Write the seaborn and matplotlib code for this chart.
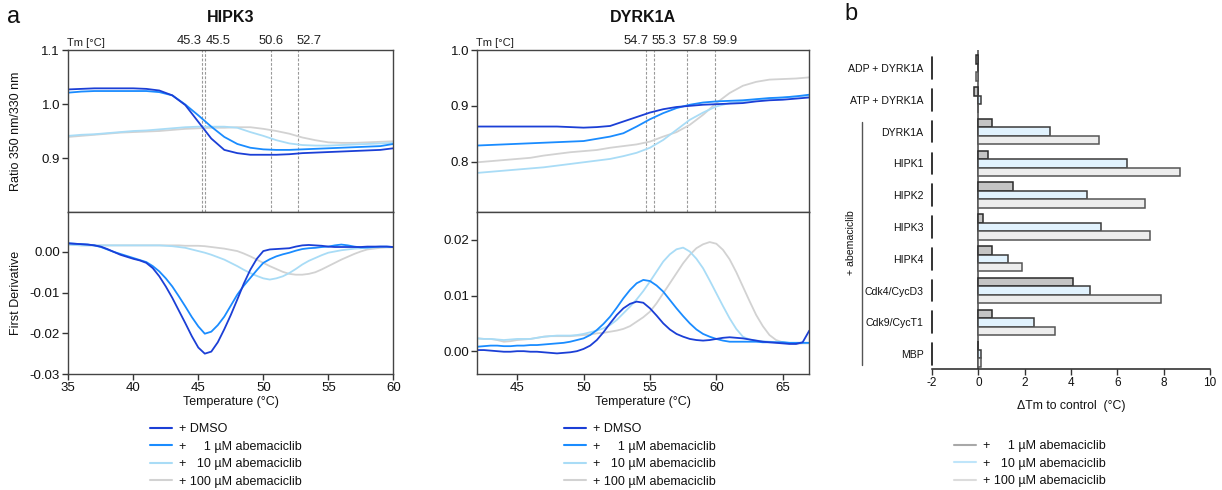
import numpy as np
import pandas as pd
import matplotlib
matplotlib.use("Agg")
import matplotlib.pyplot as plt
import matplotlib.transforms as mtransforms
from matplotlib.lines import Line2D
import seaborn as sns

# ---------------- data ----------------
conditions = ["+ DMSO", "+     1 µM abemaciclib", "+   10 µM abemaciclib", "+ 100 µM abemaciclib"]

hipk3_temp_ratio = list(range(35, 61))
hipk3_ratio_dmso = [1.027, 1.028, 1.029, 1.029, 1.029, 1.029, 1.028, 1.025, 1.016, 0.998, 0.967, 0.936, 0.915,
                    0.909, 0.906, 0.906, 0.906, 0.907, 0.909, 0.910, 0.911, 0.912, 0.913, 0.914, 0.915, 0.918]
hipk3_ratio_1 = [1.021, 1.023, 1.024, 1.024, 1.024, 1.024, 1.024, 1.022, 1.016, 0.999, 0.979, 0.958, 0.939,
                 0.926, 0.919, 0.916, 0.915, 0.915, 0.916, 0.917, 0.918, 0.919, 0.920, 0.921, 0.922, 0.926]
hipk3_ratio_10 = [0.941, 0.943, 0.944, 0.946, 0.948, 0.950, 0.951, 0.953, 0.955, 0.957, 0.958, 0.958, 0.958,
                  0.956, 0.948, 0.941, 0.933, 0.927, 0.924, 0.923, 0.923, 0.924, 0.925, 0.926, 0.927, 0.928]
hipk3_ratio_100 = [0.939, 0.941, 0.943, 0.945, 0.947, 0.948, 0.949, 0.950, 0.952, 0.954, 0.955, 0.956, 0.956,
                   0.957, 0.957, 0.954, 0.950, 0.945, 0.938, 0.933, 0.929, 0.928, 0.928, 0.929, 0.930, 0.931]

hipk3_temp_deriv = [35 + 0.5 * i for i in range(51)]
hipk3_deriv_dmso = [0.0021, 0.0020, 0.0019, 0.0018, 0.0016, 0.0013, 0.0007, 0.0000, -0.0007, -0.0012,
                    -0.0017, -0.0021, -0.0027, -0.0040, -0.0060, -0.0085, -0.0113, -0.0144, -0.0175, -0.0207,
                    -0.0235, -0.0250, -0.0245, -0.0222, -0.0190, -0.0155, -0.0117, -0.0078, -0.0044, -0.0017,
                    0.0002, 0.0006, 0.0007, 0.0008, 0.0009, 0.0013, 0.0016, 0.0017, 0.0016, 0.0015,
                    0.0013, 0.0012, 0.0012, 0.0012, 0.0012, 0.0012, 0.0013, 0.0013, 0.0013, 0.0013, 0.0012]
hipk3_deriv_1 = [0.0021, 0.0020, 0.0019, 0.0018, 0.0016, 0.0012, 0.0006, 0.0000, -0.0005, -0.0010,
                 -0.0015, -0.0020, -0.0025, -0.0035, -0.0048, -0.0065, -0.0085, -0.0109, -0.0134, -0.0160,
                 -0.0183, -0.0201, -0.0196, -0.0180, -0.0159, -0.0132, -0.0105, -0.0083, -0.0064, -0.0045,
                 -0.0027, -0.0018, -0.0011, -0.0006, -0.0002, 0.0003, 0.0007, 0.0009, 0.0010, 0.0012,
                 0.0013, 0.0016, 0.0018, 0.0016, 0.0013, 0.0011, 0.0011, 0.0012, 0.0013, 0.0013, 0.0012]
hipk3_deriv_10 = [0.0018, 0.0017, 0.0016, 0.0016, 0.0016, 0.0016, 0.0016, 0.0016, 0.0016, 0.0016,
                  0.0016, 0.0016, 0.0016, 0.0016, 0.0016, 0.0015, 0.0014, 0.0012, 0.0010, 0.0006,
                  0.0002, -0.0002, -0.0007, -0.0013, -0.0019, -0.0027, -0.0035, -0.0044, -0.0052, -0.0059,
                  -0.0065, -0.0068, -0.0065, -0.0060, -0.0052, -0.0042, -0.0031, -0.0022, -0.0015, -0.0008,
                  -0.0002, 0.0001, 0.0004, 0.0006, 0.0008, 0.0009, 0.0010, 0.0011, 0.0012, 0.0012, 0.0012]
hipk3_deriv_100 = [0.0018, 0.0017, 0.0016, 0.0016, 0.0016, 0.0016, 0.0016, 0.0016, 0.0016, 0.0016,
                   0.0016, 0.0016, 0.0016, 0.0016, 0.0016, 0.0016, 0.0016, 0.0016, 0.0015, 0.0015,
                   0.0015, 0.0014, 0.0012, 0.0010, 0.0008, 0.0005, 0.0002, -0.0004, -0.0011, -0.0019,
                   -0.0027, -0.0035, -0.0042, -0.0049, -0.0054, -0.0056, -0.0056, -0.0054, -0.0050, -0.0043,
                   -0.0035, -0.0027, -0.0019, -0.0012, -0.0005, 0.0001, 0.0006, 0.0008, 0.0010, 0.0011, 0.0011]

dyrk_temp_ratio = list(range(42, 68))
dyrk_ratio_dmso = [0.863, 0.863, 0.863, 0.863, 0.863, 0.863, 0.863, 0.862, 0.861, 0.862, 0.864, 0.872, 0.880,
                   0.888, 0.894, 0.898, 0.900, 0.902, 0.903, 0.904, 0.905, 0.908, 0.910, 0.911, 0.913, 0.915]
dyrk_ratio_1 = [0.829, 0.830, 0.831, 0.832, 0.833, 0.834, 0.835, 0.836, 0.837, 0.841, 0.845, 0.851, 0.863,
                0.876, 0.887, 0.896, 0.902, 0.906, 0.908, 0.909, 0.910, 0.912, 0.914, 0.915, 0.917, 0.920]
dyrk_ratio_10 = [0.780, 0.782, 0.784, 0.786, 0.788, 0.790, 0.793, 0.796, 0.799, 0.802, 0.805, 0.810, 0.816,
                 0.825, 0.839, 0.857, 0.875, 0.888, 0.899, 0.905, 0.908, 0.911, 0.913, 0.915, 0.917, 0.918]
dyrk_ratio_100 = [0.799, 0.801, 0.803, 0.805, 0.807, 0.811, 0.814, 0.817, 0.819, 0.821, 0.825, 0.828, 0.831,
                  0.836, 0.845, 0.853, 0.866, 0.884, 0.905, 0.923, 0.936, 0.943, 0.947, 0.948, 0.949, 0.951]

dyrk_temp_deriv = [42 + 0.5 * i for i in range(51)]
dyrk_deriv_dmso = [0.0002, 0.0002, 0.0001, 0.0000, -0.0001, -0.0001, 0.0000, 0.0000, -0.0001, -0.0001,
                   -0.0002, -0.0003, -0.0004, -0.0003, -0.0002, 0.0000, 0.0004, 0.0010, 0.0020, 0.0034,
                   0.0050, 0.0065, 0.0077, 0.0085, 0.0089, 0.0087, 0.0077, 0.0064, 0.0050, 0.0039,
                   0.0031, 0.0026, 0.0022, 0.0020, 0.0019, 0.0020, 0.0022, 0.0024, 0.0025, 0.0024,
                   0.0023, 0.0021, 0.0019, 0.0017, 0.0016, 0.0015, 0.0014, 0.0013, 0.0013, 0.0016, 0.0037]
dyrk_deriv_1 = [0.0008, 0.0009, 0.0010, 0.0010, 0.0009, 0.0009, 0.0010, 0.0010, 0.0011, 0.0011,
                0.0012, 0.0013, 0.0014, 0.0015, 0.0017, 0.0020, 0.0023, 0.0029, 0.0038, 0.0049,
                0.0062, 0.0078, 0.0095, 0.0110, 0.0122, 0.0128, 0.0126, 0.0118, 0.0107, 0.0092,
                0.0077, 0.0063, 0.0050, 0.0039, 0.0031, 0.0026, 0.0022, 0.0019, 0.0017, 0.0017,
                0.0017, 0.0017, 0.0017, 0.0016, 0.0016, 0.0016, 0.0016, 0.0015, 0.0015, 0.0015, 0.0015]
dyrk_deriv_10 = [0.0023, 0.0022, 0.0022, 0.0021, 0.0020, 0.0021, 0.0022, 0.0022, 0.0022, 0.0024,
                 0.0026, 0.0027, 0.0028, 0.0028, 0.0028, 0.0029, 0.0031, 0.0034, 0.0037, 0.0041,
                 0.0047, 0.0056, 0.0068, 0.0080, 0.0093, 0.0108, 0.0125, 0.0143, 0.0161, 0.0174,
                 0.0183, 0.0186, 0.0179, 0.0166, 0.0149, 0.0127, 0.0104, 0.0081, 0.0059, 0.0040,
                 0.0026, 0.0021, 0.0019, 0.0018, 0.0017, 0.0016, 0.0016, 0.0015, 0.0015, 0.0015, 0.0015]
dyrk_deriv_100 = [0.0023, 0.0022, 0.0022, 0.0020, 0.0017, 0.0018, 0.0020, 0.0021, 0.0022, 0.0024,
                  0.0026, 0.0027, 0.0027, 0.0027, 0.0027, 0.0028, 0.0029, 0.0030, 0.0032, 0.0033,
                  0.0035, 0.0037, 0.0040, 0.0045, 0.0053, 0.0061, 0.0071, 0.0086, 0.0104, 0.0122,
                  0.0140, 0.0158, 0.0173, 0.0185, 0.0192, 0.0196, 0.0193, 0.0182, 0.0165, 0.0142,
                  0.0116, 0.0090, 0.0065, 0.0045, 0.0029, 0.0020, 0.0016, 0.0014, 0.0013, 0.0014, 0.0014]

hipk3_tm = [45.3, 45.5, 50.6, 52.7]
dyrk_tm = [54.7, 55.3, 57.8, 59.9]

bar_categories = ["ADP + DYRK1A", "ATP + DYRK1A", "DYRK1A", "HIPK1", "HIPK2", "HIPK3", "HIPK4",
                  "Cdk4/CycD3", "Cdk9/CycT1", "MBP"]
bar_conditions = ["+     1 µM abemaciclib", "+   10 µM abemaciclib", "+ 100 µM abemaciclib"]
dtm_1uM = [-0.08, -0.2, 0.6, 0.4, 1.5, 0.2, 0.6, 4.1, 0.6, 0.0]
dtm_10uM = [0.0, 0.12, 3.1, 6.4, 4.7, 5.3, 1.3, 4.8, 2.4, 0.12]
dtm_100uM = [-0.08, 0.0, 5.2, 8.7, 7.2, 7.4, 1.9, 7.9, 3.3, 0.12]

# ---------------- style ----------------
sns.set_style("ticks")
plt.rcParams["font.family"] = ["Liberation Sans", "DejaVu Sans"]
plt.rcParams["axes.unicode_minus"] = False
plt.rcParams["axes.edgecolor"] = "#333333"
plt.rcParams["xtick.color"] = "#333333"
plt.rcParams["ytick.color"] = "#333333"
plt.rcParams["xtick.labelcolor"] = "#111111"
plt.rcParams["ytick.labelcolor"] = "#111111"
plt.rcParams["text.color"] = "#111111"
plt.rcParams["axes.labelcolor"] = "#111111"

line_colors = ["#1b3fd6", "#1a8cff", "#a9dcf6", "#d2d2d2"]
bar_faces = ["#c4c4c4", "#e1f2fd", "#ededed"]
bar_edges = ["#2a2a2a", "#3a3a3a", "#555555"]
legend_b_colors = ["#a8a8a8", "#bfe5fa", "#dcdcdc"]

W, H = 1222, 490
fig = plt.figure(figsize=(W / 100, H / 100), dpi=100)


def fx(px):
    return px / W


def fy(py):
    return 1 - py / H


ax_h_top = fig.add_axes([fx(68.3), fy(212), fx(325), (212 - 50) / H])
ax_h_bot = fig.add_axes([fx(68.3), fy(374), fx(325), (374 - 212) / H])
ax_d_top = fig.add_axes([fx(477.3), fy(212), fx(332), (212 - 50) / H])
ax_d_bot = fig.add_axes([fx(477.3), fy(374), fx(332), (374 - 212) / H])
ax_b = fig.add_axes([fx(932), fy(369), fx(278), (369 - 50) / H])

tick_fs = 9.5
label_fs = 9


def plot_set(ax, x, series):
    # lightest first so that the dark blue lies on top
    for ys, c in list(zip(series, line_colors))[::-1]:
        sns.lineplot(x=x, y=ys, ax=ax, color=c, lw=1.3, legend=False)


plot_set(ax_h_top, hipk3_temp_ratio, [hipk3_ratio_dmso, hipk3_ratio_1, hipk3_ratio_10, hipk3_ratio_100])
plot_set(ax_h_bot, hipk3_temp_deriv, [hipk3_deriv_dmso, hipk3_deriv_1, hipk3_deriv_10, hipk3_deriv_100])
plot_set(ax_d_top, dyrk_temp_ratio, [dyrk_ratio_dmso, dyrk_ratio_1, dyrk_ratio_10, dyrk_ratio_100])
plot_set(ax_d_bot, dyrk_temp_deriv, [dyrk_deriv_dmso, dyrk_deriv_1, dyrk_deriv_10, dyrk_deriv_100])

for ax in (ax_h_top, ax_h_bot):
    ax.set_xlim(35, 60)
for ax in (ax_d_top, ax_d_bot):
    ax.set_xlim(42, 67)
ax_h_top.set_ylim(0.80, 1.10)
ax_h_top.set_yticks([0.9, 1.0, 1.1])
ax_h_bot.set_ylim(-0.03, 0.0098)
ax_h_bot.set_yticks([-0.03, -0.02, -0.01, 0.0])
ax_h_bot.set_yticklabels(["-0.03", "-0.02", "-0.01", "0.00"])
ax_h_bot.set_xticks([35, 40, 45, 50, 55, 60])
ax_d_top.set_ylim(0.71, 1.0)
ax_d_top.set_yticks([0.8, 0.9, 1.0])
ax_d_bot.set_ylim(-0.0041, 0.0250)
ax_d_bot.set_yticks([0.0, 0.01, 0.02])
ax_d_bot.set_yticklabels(["0.00", "0.01", "0.02"])
ax_d_bot.set_xticks([45, 50, 55, 60, 65])

for ax in (ax_h_top, ax_h_bot, ax_d_top, ax_d_bot):
    for s in ax.spines.values():
        s.set_visible(True)
        s.set_linewidth(1.0)
        s.set_color("#444444")
    ax.tick_params(axis="both", direction="out", length=4, width=1, labelsize=tick_fs, pad=2)
    ax.set_xlabel("")
    ax.set_ylabel("")
for ax in (ax_h_top, ax_d_top):
    ax.tick_params(axis="x", bottom=False, labelbottom=False)
    ax.set_yticklabels([f"{v:.1f}" for v in ax.get_yticks()])

ax_h_top.set_ylabel("Ratio 350 nm/330 nm", fontsize=label_fs)
ax_h_bot.set_ylabel("First Derivative", fontsize=label_fs)
ax_h_top.yaxis.set_label_coords(-0.142, 0.5)
ax_h_bot.yaxis.set_label_coords(-0.142, 0.5)
ax_h_bot.set_xlabel("Temperature (°C)", fontsize=label_fs, labelpad=1)
ax_d_bot.set_xlabel("Temperature (°C)", fontsize=label_fs, labelpad=1)


def tm_marks(ax, tms, aligns, offsets_pt):
    trans = mtransforms.blended_transform_factory(ax.transData, ax.transAxes)
    for tm, ha, off in zip(tms, aligns, offsets_pt):
        ax.axvline(tm, color="#9a9a9a", lw=0.8, ls=(0, (2.5, 1.5)), zorder=1)
        ax.annotate(f"{tm:.1f}", xy=(tm, 1.0), xycoords=trans, xytext=(off, 2),
                    textcoords="offset points", ha=ha, va="bottom", fontsize=9.3, color="#222222")
    ax.text(-0.003, 1.0 + 2 / 162, "Tm [°C]", transform=ax.transAxes, ha="left", va="bottom",
            fontsize=8, color="#222222")


tm_marks(ax_h_top, hipk3_tm, ["right", "left", "center", "left"], [-0.5, 0.5, 0, -1.5])
tm_marks(ax_d_top, dyrk_tm, ["right", "left", "left", "left"], [1.5, -1.5, -3, -1.5])

fig.text(fx(231), fy(18), "HIPK3", ha="center", va="center", fontsize=11.5, fontweight="bold")
fig.text(fx(643), fy(18), "DYRK1A", ha="center", va="center", fontsize=11.5, fontweight="bold")
fig.text(fx(7), fy(17), "a", ha="left", va="center", fontsize=17)
fig.text(fx(844), fy(14), "b", ha="left", va="center", fontsize=17)

handles_a = [Line2D([], [], color=c, lw=1.5) for c in line_colors]
for xpx in (150, 564):
    fig.legend(handles_a, conditions, loc="upper left", bbox_to_anchor=(fx(xpx), fy(423)),
               frameon=False, fontsize=9, handlelength=1.75, handletextpad=0.6,
               labelspacing=0.44, borderpad=0, borderaxespad=0)

# ---------------- panel b ----------------
rows = []
for cat, a, b, c in zip(bar_categories, dtm_1uM, dtm_10uM, dtm_100uM):
    rows.append((cat, bar_conditions[0], a))
    rows.append((cat, bar_conditions[1], b))
    rows.append((cat, bar_conditions[2], c))
df_b = pd.DataFrame(rows, columns=["category", "condition", "dtm"])
sns.barplot(data=df_b, y="category", x="dtm", hue="condition", order=bar_categories,
            hue_order=bar_conditions, palette=bar_faces, orient="h", width=0.8,
            ax=ax_b, legend=False, errorbar=None, saturation=1)
for cont, ec in zip(ax_b.containers, bar_edges):
    for p in cont:
        p.set_edgecolor(ec)
        p.set_linewidth(1.1)

ax_b.set_xlim(-2, 10)
ax_b.set_ylim(9.47, -0.57)
ax_b.set_xticks([-2, 0, 2, 4, 6, 8, 10])
ax_b.set_xlabel("ΔTm to control  (°C)", fontsize=8.8, labelpad=8)
ax_b.set_ylabel("")
for side in ("top", "right", "left"):
    ax_b.spines[side].set_visible(False)
ax_b.spines["bottom"].set_linewidth(1.1)
ax_b.spines["bottom"].set_color("#222222")
ax_b.tick_params(axis="x", direction="out", length=4, width=1, labelsize=8.5, pad=2)
ax_b.tick_params(axis="y", length=0, labelsize=7.6, pad=6)
ax_b.axvline(0, color="#555555", lw=1.2, zorder=0.5)
for i in range(len(bar_categories)):
    ax_b.plot([-2, -2], [i - 0.34, i + 0.34], color="#111111", lw=1.2, clip_on=False)
trans_b = mtransforms.blended_transform_factory(ax_b.transAxes, ax_b.transData)
ax_b.plot([-0.252, -0.252], [1.7, 9.34], color="#555555", lw=1.0, transform=trans_b, clip_on=False)
ax_b.text(-0.29, 5.5, "+ abemaciclib", rotation=90, ha="center", va="center", fontsize=7.6,
          transform=trans_b)

handles_b = [Line2D([], [], color=c, lw=1.5) for c in legend_b_colors]
fig.legend(handles_b, bar_conditions, loc="upper left", bbox_to_anchor=(fx(954), fy(440)),
           frameon=False, fontsize=9, handlelength=1.75, handletextpad=0.6,
           labelspacing=0.44, borderpad=0, borderaxespad=0)

fig.savefig("out.png", dpi=100)
